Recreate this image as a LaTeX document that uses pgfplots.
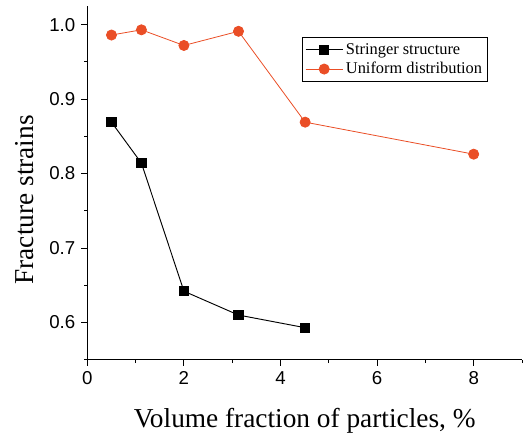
\documentclass[border=0pt]{standalone}
\usepackage{pgfplots}
\pgfplotsset{compat=1.18}
\usepackage{fontspec}
\setmainfont{Liberation Serif}
\newfontfamily\ticksans{Liberation Sans}
\definecolor{uniform}{RGB}{234,78,38}

\begin{document}
\begin{tikzpicture}
\begin{axis}[
  scale only axis,
  width=326pt, height=265.3pt,
  xmin=0, xmax=9,
  ymin=0.55, ymax=1.025,
  axis x line*=bottom,
  axis y line*=left,
  axis line style={line width=0.75pt, -},
  xtick={0,2,4,6,8},
  minor xtick={1,3,5,7,9},
  ytick={0.6,0.7,0.8,0.9,1.0},
  minor ytick={0.55,0.65,0.75,0.85,0.95},
  tick align=outside,
  major tick length=4.5pt,
  minor tick length=2.5pt,
  tick style={line width=0.75pt, black},
  /pgf/number format/assume math mode=true,
  /pgf/number format/fixed,
  /pgf/number format/fixed zerofill,
  /pgf/number format/precision=1,
  xticklabel={\pgfmathprintnumber[fixed,precision=0]{\tick}},
  tick label style={font=\ticksans\fontsize{14}{16}\selectfont},
  yticklabel style={xshift=-1pt},
  xticklabel style={yshift=-1pt},
  xlabel={Volume fraction of particles, \%},
  ylabel={Fracture strains},
  label style={font=\fontsize{20.5}{24}\selectfont},
  xlabel style={at={(axis description cs:0.5,-0.1911)}, anchor=base},
  ylabel style={at={(axis description cs:-0.1248,0.452)}, anchor=base},
  legend style={
    at={(rel axis cs:0.494,0.9115)}, anchor=north west,
    draw=black, line width=0.6pt,
    font=\fontsize{12.3}{14}\selectfont,
    inner xsep=2pt, inner ysep=2.2pt, row sep=0.6pt,
    legend cell align=left,
    /tikz/every even column/.append style={column sep=1pt},
  },
  legend image code/.code={%
    \draw[mark repeat=2,mark phase=2] plot coordinates {(0pt,0pt) (14pt,0pt) (28pt,0pt)};},
  legend image post style={line width=0.6pt},
  clip=false,
]
\addplot[black, line width=0.7pt, mark=square*, mark size=3.5pt, mark options={solid}]
  coordinates {(0.5,0.869) (1.12,0.814) (2.0,0.642) (3.13,0.610) (4.51,0.593)};
\addlegendentry{Stringer structure}
\addplot[uniform, line width=0.6pt, mark=*, mark size=3.8pt, mark options={solid, fill=uniform, draw=uniform}]
  coordinates {(0.5,0.986) (1.12,0.993) (2.0,0.972) (3.13,0.991) (4.51,0.869) (8.0,0.826)};
\addlegendentry{Uniform distribution}
\end{axis}
\pgfresetboundingbox
\path (-65.5pt,-55.7pt) rectangle (326.75pt,269.8pt);
\end{tikzpicture}
\end{document}
